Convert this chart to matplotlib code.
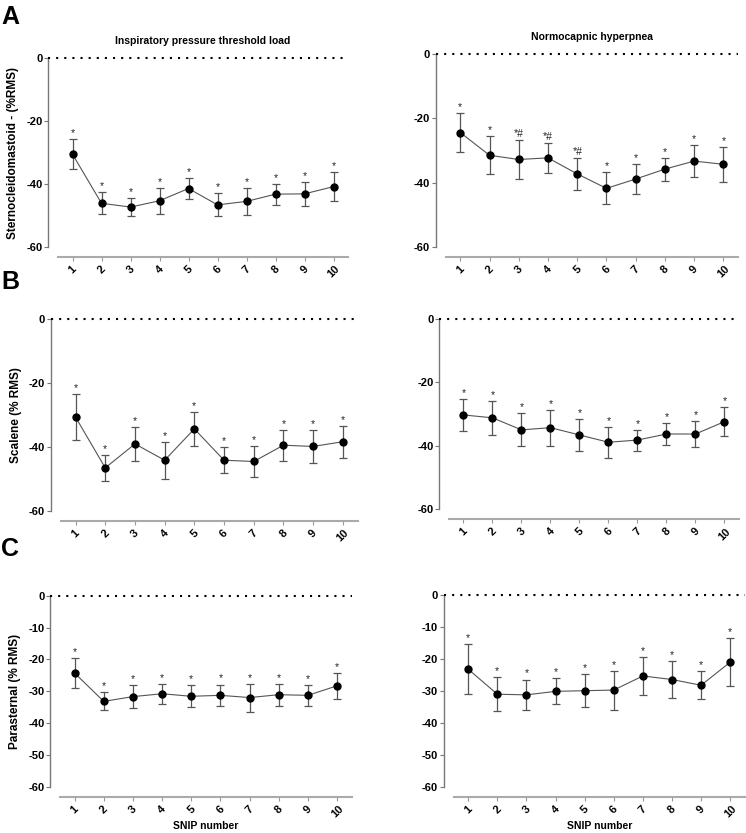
import numpy as np
import matplotlib
matplotlib.use('agg')
import matplotlib.pyplot as plt

plt.rcParams['font.family'] = ['Liberation Sans', 'DejaVu Sans']

# SNIP number on x
snip = np.arange(1, 11)

# Panel A - sternocleidomastoid
scm_iptl = [-30.5, -46.1, -47.3, -45.3, -41.4, -46.6, -45.5, -43.2, -43.1, -40.8]
scm_iptl_err = [4.8, 3.5, 2.9, 4.1, 3.2, 3.7, 4.2, 3.3, 3.8, 4.6]
scm_nh = [-24.4, -31.5, -32.8, -32.3, -37.3, -41.8, -38.9, -35.8, -33.3, -34.3]
scm_nh_err = [6.0, 5.9, 6.0, 4.6, 5.1, 5.0, 4.8, 3.6, 4.9, 5.5]

# Panel B - scalene
sca_iptl = [-30.7, -46.6, -39.1, -44.2, -34.4, -44.2, -44.6, -39.5, -39.9, -38.4]
sca_iptl_err = [7.2, 4.0, 5.2, 5.8, 5.2, 4.0, 4.7, 4.8, 5.1, 5.0]
sca_nh = [-30.3, -31.2, -35.0, -34.3, -36.6, -38.9, -38.2, -36.3, -36.3, -32.4]
sca_nh_err = [5.0, 5.4, 5.2, 5.7, 4.9, 4.8, 3.3, 3.4, 4.0, 4.5]

# Panel C - parasternal
par_iptl = [-24.3, -33.2, -31.7, -30.8, -31.6, -31.3, -32.0, -31.1, -31.3, -28.3]
par_iptl_err = [4.8, 2.8, 3.6, 3.2, 3.4, 3.4, 4.4, 3.5, 3.2, 4.1]
par_nh = [-23.3, -31.1, -31.3, -30.2, -30.0, -29.8, -25.4, -26.5, -28.3, -21.1]
par_nh_err = [7.8, 5.3, 4.8, 4.1, 5.1, 6.1, 6.0, 5.7, 4.4, 7.5]

# significance marks
stars_all = ['*'] * 10
stars_nh_scm = ['*', '*', '*#', '*#', '*#', '*', '*', '*', '*', '*']

W, H = 746, 833
fig = plt.figure(figsize=(W / 100, H / 100), dpi=100)


def make_ax(xl, xr, yt, yb):
    return fig.add_axes([xl / W, 1 - yb / H, (xr - xl) / W, (yb - yt) / H])


def draw_panel(ax, mean, err, marks, yticks, ylabel=None, title=None, xlabel=None):
    mean = np.asarray(mean)
    err = np.asarray(err)

    # prism style offset axes (set first: set_position resets ticks)
    ax.spines['top'].set_visible(False)
    ax.spines['right'].set_visible(False)
    ax.spines['left'].set_position(('outward', 7.2))
    ax.spines['bottom'].set_position(('outward', 7.2))
    ax.spines['left'].set_color('#777777')
    ax.spines['bottom'].set_color('#aaaaaa')
    ax.spines['left'].set_linewidth(1.0)
    ax.spines['bottom'].set_linewidth(1.5)

    ax.errorbar(snip, mean, yerr=err, fmt='none', ecolor='#555555',
                elinewidth=0.9, capsize=3, capthick=0.9, zorder=2, clip_on=False)
    ax.plot(snip, mean, '-', color='#555555', lw=0.8, zorder=3, clip_on=False)
    ax.plot(snip, mean, 'o', color='black', ms=5, zorder=4, clip_on=False)
    for x, m, e, s in zip(snip, mean, err, marks):
        ax.text(x, m + e + 0.3, s, ha='center', va='bottom', fontsize=7.5,
                color='#222222')

    # dotted zero line from the offset y axis to the right end
    wpx = ax.get_position().width * W
    ax.plot([-10 / wpx, 1], [0, 0], transform=ax.get_yaxis_transform(),
            color='black', lw=1.5, dashes=[1, 2.9], dash_capstyle='butt',
            clip_on=False, zorder=5)

    ax.set_xlim(0.5, 10.5)
    ax.set_ylim(-60, 0)
    ax.set_xticks(snip)
    ax.set_xticklabels([str(v) for v in snip], rotation=45, ha='center',
                       fontsize=8, fontweight='bold')
    ax.set_yticks(yticks)
    ax.set_yticklabels([str(v) for v in yticks], fontsize=8, fontweight='bold')
    ax.tick_params(axis='y', length=3, width=0.8, color='#777777', pad=1)
    ax.tick_params(axis='x', length=3, width=0.8, color='#999999', pad=2)
    ax.patch.set_visible(False)
    if ylabel:
        ax.set_ylabel(ylabel, fontsize=8.5, fontweight='bold', labelpad=5)
    if title:
        ax.set_title(title, fontsize=7.5, fontweight='bold', pad=10)
    if xlabel:
        ax.set_xlabel(xlabel, fontsize=7.5, fontweight='bold', labelpad=1)


ticks_a = [0, -20, -40, -60]
ticks_c = [0, -10, -20, -30, -40, -50, -60]

ax = make_ax(58, 348, 58.3, 247)
draw_panel(ax, scm_iptl, scm_iptl_err, stars_all, ticks_a,
           ylabel='Sternocleidomastoid - (%RMS)',
           title='Inspiratory pressure threshold load')
ax = make_ax(445.7, 738, 54.3, 246.7)
draw_panel(ax, scm_nh, scm_nh_err, stars_nh_scm, ticks_a,
           title='Normocapnic hyperpnea')

ax = make_ax(60.7, 357.7, 319, 510.7)
draw_panel(ax, sca_iptl, sca_iptl_err, stars_all, ticks_a,
           ylabel='Scalene (% RMS)')
ax = make_ax(449, 739, 318.7, 509.3)
draw_panel(ax, sca_nh, sca_nh_err, stars_all, ticks_a)

ax = make_ax(60, 351.7, 595.7, 786.7)
draw_panel(ax, par_iptl, par_iptl_err, stars_all, ticks_c,
           ylabel='Parasternal (% RMS)', xlabel='SNIP number')
ax = make_ax(453.7, 744.7, 594.7, 786.7)
draw_panel(ax, par_nh, par_nh_err, stars_all, ticks_c, xlabel='SNIP number')

# panel letters
for letter, ypx in [('A', 5), ('B', 270), ('C', 537)]:
    fig.text(1 / W, 1 - ypx / H, letter, fontsize=18, fontweight='bold',
             va='top', ha='left')

fig.savefig('out.png', dpi=100)
